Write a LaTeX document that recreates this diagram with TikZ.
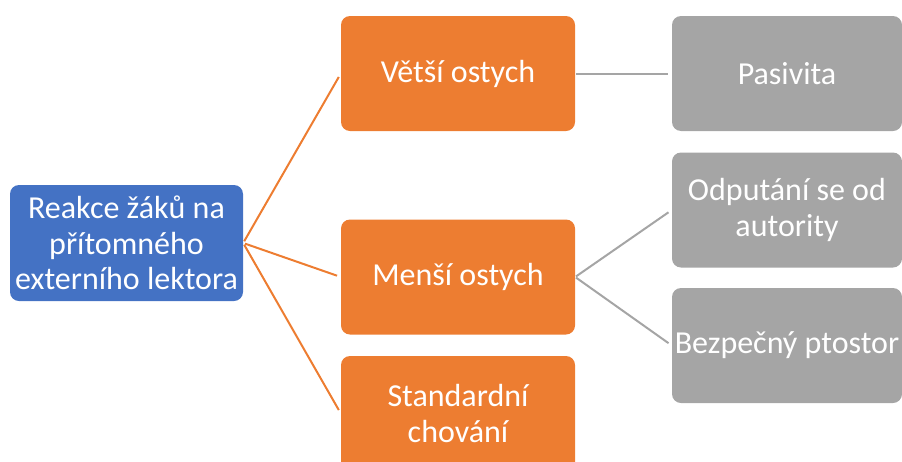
\documentclass[tikz,border=0pt]{standalone}
\usepackage{fontspec}
\setmainfont{Carlito}
\definecolor{cblue}{HTML}{4472C4}
\definecolor{corange}{HTML}{ED7D31}
\definecolor{cgray}{HTML}{A5A5A5}
\begin{document}
\begin{tikzpicture}[x=1pt,y=-1pt,
  box/.style={rounded corners=9pt, inner sep=0pt, text=white, align=center,
    font=\fontsize{32}{35.5}\selectfont},
  rootbox/.style={box, fill=cblue, minimum width=233pt, minimum height=116pt},
  midbox/.style={box, fill=corange, minimum width=234pt, minimum height=115pt},
  leafbox/.style={box, fill=cgray, minimum width=230pt, minimum height=115pt},
  olink/.style={draw=corange, line width=2pt, shorten <=2pt, shorten >=4pt},
  glink/.style={draw=cgray, line width=2pt, shorten <=1pt, shorten >=4pt}]
\useasboundingbox (0,0) rectangle (902,461);
\clip (0,0) rectangle (902,461);
\node[rootbox] (root) at (126.5,243) {Reakce žáků na\\přítomného\\externího lektora};
\node[midbox] (m1) at (458,73.5) {Větší ostych};
\node[midbox] (m2) at (458,277) {Menší ostych};
\node[midbox] (m3) at (458,413.5) {Standardní\\chování};
\node[leafbox] (l1) at (787,73.5) {Pasivita};
\node[leafbox] (l2) at (787,210) {Odputání se od\\autority};
\node[leafbox] (l3) at (787,345.5) {\makebox[200pt]{Bezpečný ptostor}};
\draw[olink] (root.east) -- (m1.west);
\draw[olink] (root.east) -- (m2.west);
\draw[olink] (root.east) -- (m3.west);
\draw[glink] (m1.east) -- (l1.west);
\draw[glink] (m2.east) -- (l2.west);
\draw[glink] (m2.east) -- (l3.west);
\end{tikzpicture}
\end{document}
